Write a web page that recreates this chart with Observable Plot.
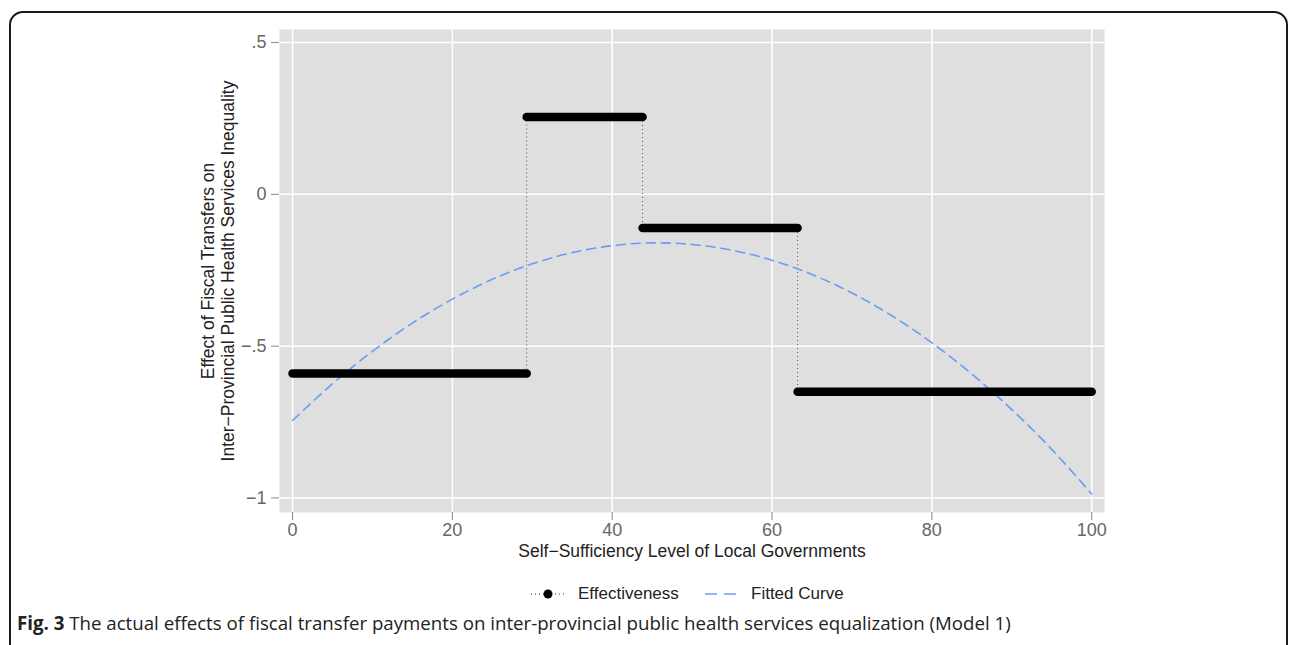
<!DOCTYPE html>
<html>
<head>
<meta charset="utf-8">
<script src="https://cdn.jsdelivr.net/npm/d3@7"></script>
<script src="https://cdn.jsdelivr.net/npm/@observablehq/plot@0.6"></script>
<style>
  html, body { margin: 0; padding: 0; background: #fff; }
  #wrap { position: relative; width: 1292px; height: 645px; overflow: hidden; font-family: "Liberation Sans", Arial, sans-serif; }
  #frame { position: absolute; left: 9px; top: 11px; width: 1279px; height: 700px; border: 2px solid #1a1a1a; border-radius: 14px; box-sizing: border-box; }
  #chart { position: absolute; left: 0; top: 0; }
  .leg { position: absolute; font-size: 17px; line-height: 20px; color: #222; white-space: nowrap; }
  #caption { position: absolute; left: 17px; top: 611px; font-family: "Open Sans", sans-serif; font-size: 18px; line-height: 24px; color: #222; white-space: nowrap; }
  #caption b { font-weight: 700; }
</style>
</head>
<body>
<div id="wrap">
  <div id="frame"></div>
  <div id="chart"></div>
  <svg class="leg" style="left:530px; top:586px;" width="36" height="16">
    <line x1="1" y1="8" x2="35" y2="8" stroke="#333" stroke-width="1" stroke-dasharray="1,3"></line>
    <circle cx="18" cy="8" r="4.5" fill="#000"></circle>
  </svg>
  <div class="leg" style="left:578px; top:584px;">Effectiveness</div>
  <svg class="leg" style="left:704px; top:586px;" width="36" height="16">
    <line x1="1" y1="8" x2="34" y2="8" stroke="#6b9cf5" stroke-width="1.5" stroke-dasharray="12,7"></line>
  </svg>
  <div class="leg" style="left:751px; top:584px;">Fitted Curve</div>
  <div id="caption"><b>Fig. 3</b> The actual effects of fiscal transfer payments on inter-provincial public health services equalization (Model 1)</div>
</div>
<script>
// ---- data ----
const breaks = [0, 29.3, 43.8, 63.2, 100];           // self-sufficiency thresholds
const effects = [-0.59, 0.255, -0.111, -0.65];       // effectiveness in each regime

const fitX = [0, 5, 10, 15, 20, 25, 30, 35, 40, 45, 50, 55, 60, 65, 70, 75, 80, 85, 90, 95, 100];
const fitY = [-0.745, -0.624, -0.517, -0.424, -0.345, -0.28, -0.229, -0.192, -0.169, -0.16, -0.165, -0.184, -0.217, -0.264, -0.325, -0.4, -0.489, -0.592, -0.709, -0.84, -0.987];

const xTicks = [0, 20, 40, 60, 80, 100];
const yTicks = [-1, -0.5, 0, 0.5];
const yTickLabels = ["\u22121", "\u2212.5", "0", ".5"];

const xTitle = "Self\u2212Sufficiency Level of Local Governments";
const yTitle1 = "Effect of Fiscal Transfers on";
const yTitle2 = "Inter\u2212Provincial Public Health Services Inequality";

// ---- derived tables ----
const segs = effects.map((v, i) => ({x1: breaks[i], x2: breaks[i + 1], y: v}));
const jumps = effects.slice(1).map((v, i) => ({x: breaks[i + 1], y1: effects[i], y2: v}));
const fit = fitX.map((x, i) => ({x, y: fitY[i]}));

const blue = "#6b9cf5";

const chart = Plot.plot({
  width: 1292,
  height: 570,
  marginLeft: 279,
  marginRight: 188,
  marginTop: 29,
  marginBottom: 58,
  style: {fontFamily: "'Liberation Sans', Arial, sans-serif", background: "transparent"},
  x: {domain: [-1.63, 101.6]},
  y: {domain: [-1.048, 0.543]},
  marks: [
    Plot.frame({fill: "#dfdfdf", stroke: null}),
    Plot.gridX(xTicks, {stroke: "#fff", strokeOpacity: 1, strokeWidth: 1.5}),
    Plot.gridY(yTicks, {stroke: "#fff", strokeOpacity: 1, strokeWidth: 1.5}),
    Plot.axisX(xTicks, {tickSize: 8, tickPadding: 3, stroke: "#888", fill: "#666", fontSize: 18, label: null}),
    Plot.axisY(yTicks, {tickSize: 8, tickPadding: 5, stroke: "#888", fill: "#666", fontSize: 18, label: null,
      tickFormat: (d) => yTickLabels[yTicks.indexOf(d)]}),
    Plot.text([xTitle], {text: d => d, frameAnchor: "bottom", dy: 39, lineAnchor: "middle", fontSize: 17.5, fill: "#222"}),
    Plot.text([yTitle1], {text: d => d, frameAnchor: "left", dx: -71, rotate: -90, textAnchor: "middle", lineAnchor: "middle", fontSize: 17.5, fill: "#222"}),
    Plot.text([yTitle2], {text: d => d, frameAnchor: "left", dx: -51, rotate: -90, textAnchor: "middle", lineAnchor: "middle", fontSize: 17.5, fill: "#222"}),
    Plot.link(jumps, {x1: "x", x2: "x", y1: "y1", y2: "y2", stroke: "#555", strokeWidth: 1, strokeDasharray: "1,3"}),
    Plot.line(fit, {x: "x", y: "y", curve: "natural", stroke: blue, strokeWidth: 1.6, strokeDasharray: "9,6"}),
    Plot.link(segs, {x1: "x1", x2: "x2", y1: "y", y2: "y", stroke: "#000", strokeWidth: 8.5, strokeLinecap: "round"})
  ]
});
document.getElementById("chart").appendChild(chart);

// fit caption to the reference's width
const cap = document.getElementById("caption");
const w = cap.getBoundingClientRect().width;
if (w > 0) cap.style.fontSize = (18 * 994 / w).toFixed(2) + "px";
</script>
</body>
</html>
